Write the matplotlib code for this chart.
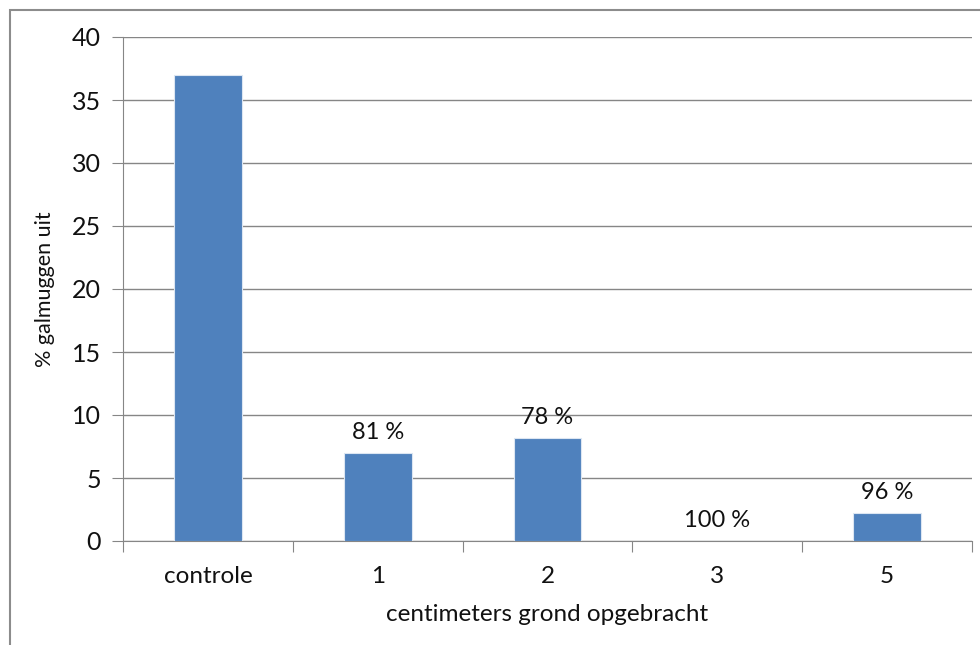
import matplotlib.pyplot as plt
from matplotlib.patches import Rectangle

# categories and values
categories = ["controle", "1", "2", "3", "5"]
values = [37.0, 7.0, 8.2, 0.0, 2.2]
reduction_labels = ["", "81 %", "78 %", "100 %", "96 %"]

plt.rcParams['font.family'] = ['Lato', 'DejaVu Sans']

W, H = 980, 645
fig = plt.figure(figsize=(W / 100, H / 100), dpi=100)
ax = fig.add_axes([123 / W, 1 - 541 / H, (972 - 123) / W, (541 - 37) / H])

grid_col = "#868686"
bar_col = "#4f81bd"

x = list(range(len(categories)))
ax.bar(x, values, width=0.4, color=bar_col, edgecolor="#dce6f2", linewidth=0.8, zorder=3)

for xi, v, lab in zip(x, values, reduction_labels):
    if lab:
        ax.text(xi, v + 0.8, lab, ha="center", va="bottom", fontsize=17, color="#111111")

ax.set_xlim(-0.5, len(categories) - 0.5)
ax.set_ylim(0, 40)
ax.set_yticks(range(0, 41, 5))
ax.yaxis.grid(True, color=grid_col, linewidth=1, zorder=0)
ax.set_axisbelow(True)

# category labels centered, ticks between categories
ax.set_xticks([i - 0.5 for i in range(len(categories) + 1)])
ax.set_xticklabels([])
ax.set_xticks(x, minor=True)
ax.set_xticklabels(categories, minor=True)
ax.tick_params(axis="x", which="major", length=8, color=grid_col, direction="out")
ax.tick_params(axis="x", which="minor", length=0, labelsize=17.5, pad=18, labelcolor="#111111")
ax.tick_params(axis="y", length=8, color=grid_col, labelsize=18, pad=8, labelcolor="#111111")

for s in ["top", "right"]:
    ax.spines[s].set_visible(False)
ax.spines["left"].set_color(grid_col)
ax.spines["bottom"].set_color(grid_col)

ax.set_ylabel("% galmuggen uit", fontsize=15.5, labelpad=12, color="#111111")
ax.set_xlabel("centimeters grond opgebracht", fontsize=17.5, labelpad=12, color="#111111")

# outer chart border, runs off the right and bottom edges
fig.patches.append(Rectangle((10 / W, -0.05), 1.1, 1 - 10 / H + 0.05, transform=fig.transFigure,
                             fill=False, edgecolor="#8c8c8c", linewidth=1.5))

fig.savefig("out.png", dpi=100)
